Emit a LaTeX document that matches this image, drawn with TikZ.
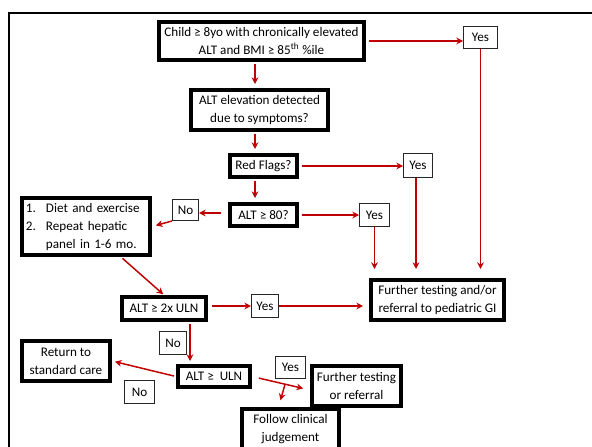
\documentclass[tikz,border=0pt]{standalone}
\usepackage{fontspec}
\setmainfont{Carlito}
\usetikzlibrary{arrows.meta,calc}
\newlength\px \setlength\px{0.75pt}
\definecolor{arrred}{HTML}{C00000}
\newcommand\fs{\fontsize{9.85}{13.5}\selectfont}
\begin{document}
\begin{tikzpicture}[x=0.75pt,y=-0.75pt,
  box/.style={draw=black, line width=3pt, inner sep=0pt, align=center, font=\fs},
  lab/.style={draw=black!85, line width=0.75pt, inner sep=0pt, font=\fs},
  arr/.style={draw=arrred, line width=1.1pt, -{Stealth[length=5pt,width=5pt]}}]
\useasboundingbox (0,0) rectangle (592,446);
\draw[line width=1.5pt] (9,460) -- (9,13) -- (600,13);

\node[box,minimum width=205\px,minimum height=38\px] (child) at (261.5,41) {Child ≥ 8yo with chronically elevated\\ALT and BMI ≥ 85\textsuperscript{th} \%ile};
\node[box,minimum width=137\px,minimum height=40\px] (elev) at (259.5,110) {ALT elevation detected\\due to symptoms?};
\node[box,minimum width=67\px,minimum height=22\px] (red) at (263.5,166) {Red Flags?};
\node[box,minimum width=67\px,minimum height=22\px] (alt80) at (263.5,215) {ALT ≥ 80?};
\node[box,minimum width=128\px,minimum height=57\px,text width=120\px,inner xsep=4\px,align=left] (diet) at (86,226.5)
  {\makebox[20\px][l]{1.}Diet and exercise\\\makebox[20\px][l]{2.}Repeat hepatic\\\hspace*{20\px}panel in 1-6 mo.};
\node[box,minimum width=84\px,minimum height=23\px] (alt2x) at (164,308.5) {ALT ≥ 2x ULN};
\node[box,minimum width=133\px,minimum height=40\px] (gi) at (437.5,300) {Further testing and/or\\referral to pediatric GI};
\node[box,minimum width=88\px,minimum height=40\px] (ret) at (66,361) {Return to\\standard care};
\node[box,minimum width=72\px,minimum height=21\px] (altuln) at (214,376.5) {ALT ≥\ \ ULN};
\node[box,minimum width=97\px,minimum height=40\px] (fcj) at (290.5,429) {Follow clinical\\judgement};
\node[box,minimum width=89\px,minimum height=40\px] (ftr) at (356.5,386) {Further testing\\or referral};

\node[lab,minimum width=34\px,minimum height=22\px] (y1) at (480.5,37.5) {Yes};
\node[lab,minimum width=29\px,minimum height=24\px] (y2) at (418,165.5) {Yes};
\node[lab,minimum width=26\px,minimum height=21\px] (n1) at (185.5,210) {No};
\node[lab,minimum width=30\px,minimum height=23\px] (y3) at (374.5,215) {Yes};
\node[lab,minimum width=27\px,minimum height=23\px] (y4) at (265,306) {Yes};
\node[lab,minimum width=27\px,minimum height=23\px] (n2) at (173,343) {No};
\node[lab,minimum width=30\px,minimum height=22\px] (y5) at (290.5,367.5) {Yes};
\node[lab,minimum width=30\px,minimum height=23\px] (n3) at (139.5,392) {No};

\draw[arr,shorten <=3\px] (child.east) -- (child.east -| y1.west);
\draw[arr,shorten >=9\px] (y1.south) -- (y1.south |- gi.north);
\draw[arr,shorten <=2\px,shorten >=4\px] ([xshift=-6.5\px]child.south) -- ([xshift=-6.5\px]child.south |- elev.north);
\draw[arr,shorten <=2\px,shorten >=4\px] ([xshift=-4.5\px]elev.south) -- ([xshift=-4.5\px]elev.south |- red.north);
\draw[arr,shorten <=3\px] (red.east) -- (red.east -| y2.west);
\draw[arr,shorten >=9\px] ([xshift=-2\px]y2.south) -- ([xshift=-2\px]y2.south |- gi.north);
\draw[arr,shorten <=2\px,shorten >=4\px] ([xshift=-8.5\px]red.south) -- ([xshift=-8.5\px]red.south |- alt80.north);
\draw[arr,shorten <=7\px] ([yshift=2\px]alt80.west) -- ([yshift=2\px]alt80.west -| n1.east);
\draw[arr,shorten >=4\px] (n1.south west) -- (diet.east);
\draw[arr,shorten <=3\px] (alt80.east) -- (alt80.east -| y3.west);
\draw[arr,shorten >=9\px] (y3.south) -- (y3.south |- gi.north);
\draw[arr,shorten <=2\px,shorten >=1\px] ([xshift=35\px]diet.south) -- (alt2x.north);
\draw[arr,shorten <=4\px] ([yshift=2.5\px]alt2x.east) -- ([yshift=2.5\px]alt2x.east -| y4.west);
\draw[arr,shorten >=6\px] (y4.east) -- (y4.east -| gi.west);
\draw[arr,shorten <=2\px,shorten >=3\px] ([xshift=26\px]alt2x.south) -- ([xshift=26\px]alt2x.south |- altuln.north);
\draw[arr,shorten <=2\px,shorten >=3\px] (altuln.west) -- (ret.east);
\draw[arr,shorten <=7\px,shorten >=7\px] (altuln.east) -- ([yshift=-4\px]ftr.west);
\coordinate (br) at ($(altuln.east)!0.57!([yshift=-4\px]ftr.west)$);
\draw[arr,shorten >=7\px] (br) -- ([xshift=-12\px]fcj.north);
\end{tikzpicture}
\end{document}
